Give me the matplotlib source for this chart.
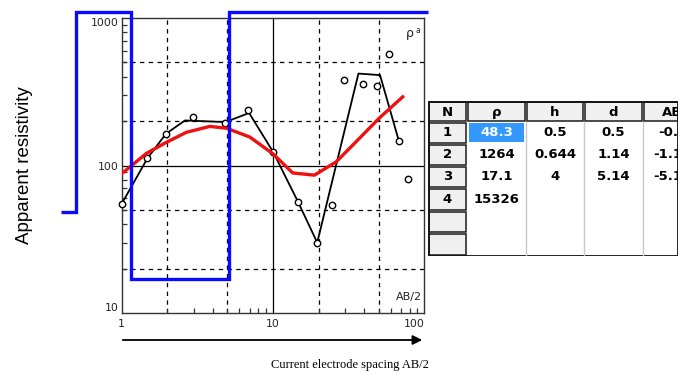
import numpy as np
import matplotlib
matplotlib.use("Agg")
import matplotlib.pyplot as plt
from matplotlib.patches import Rectangle, FancyArrowPatch
from matplotlib.ticker import LogLocator, NullFormatter, FixedLocator

# ---------------- data ----------------
# observed apparent resistivity (open circles)
obs_x = [1.0, 1.48, 1.96, 2.94, 4.85, 6.85, 10.0, 14.6, 19.6, 24.6, 29.4, 39.2, 48.7, 58.8, 68.4, 78.4]
obs_y = [55, 112, 164, 213, 194, 238, 124, 57, 30, 54, 379, 357, 345, 566, 146, 81]

# black line (smoothed field curve)
line_x = [1.0, 1.48, 1.96, 2.62, 4.85, 6.95, 10.0, 14.6, 19.6, 36.7, 51.0, 68.4]
line_y = [55, 112, 164, 202, 197, 227, 124, 57, 30, 420, 410, 143]

# red line (model response)
calc_x = [1.0, 1.46, 1.96, 2.68, 3.82, 4.92, 7.02, 10.0, 13.5, 18.8, 26.2, 37.3, 50.5, 72.0]
calc_y = [88, 121, 143, 168, 184, 179, 156, 120, 89, 86, 106, 153, 210, 292]

# layered model (blue)
layer_rho = [48.3, 1264, 17.1, 15326]
layer_h = [0.5, 0.644, 4]
layer_d = list(np.cumsum(layer_h))

# ---------------- figure ----------------
W, H = 686, 377
fig = plt.figure(figsize=(W / 100, H / 100), dpi=100)
fig.patch.set_facecolor("white")

ax_l, ax_r, ax_t, ax_b = 121.7, 424.3, 18.0, 313.0
ax = fig.add_axes([ax_l / W, (H - ax_b) / H, (ax_r - ax_l) / W, (ax_b - ax_t) / H])
ax.set_xscale("log")
ax.set_yscale("log")
ax.set_xlim(1, 100)
ax.set_ylim(10, 1000)

# grid
dash = (0, (3.5, 3.5))
for g in [2, 5, 20, 50]:
    ax.axvline(g, color="black", lw=0.9, ls=dash, zorder=1)
for g in [20, 50, 200, 500]:
    ax.axhline(g, color="black", lw=0.9, ls=dash, zorder=1)
ax.axvline(10, color="black", lw=0.9, zorder=1)
ax.axhline(100, color="black", lw=0.9, zorder=1)

for s in ax.spines.values():
    s.set_color("#333333")
    s.set_linewidth(1.0)

# ticks
ax.xaxis.set_major_locator(FixedLocator([1, 10, 100]))
ax.yaxis.set_major_locator(FixedLocator([10, 100, 1000]))
ax.set_xticklabels(["1", "10", "100"])
ax.set_yticklabels(["10", "100", "1000"])
ax.xaxis.set_minor_locator(LogLocator(base=10, subs=np.arange(2, 10)))
ax.yaxis.set_minor_locator(LogLocator(base=10, subs=np.arange(2, 10)))
ax.xaxis.set_minor_formatter(NullFormatter())
ax.yaxis.set_minor_formatter(NullFormatter())
ax.tick_params(which="major", length=0, labelsize=7.8, colors="#222222")
ax.tick_params(axis="x", which="major", pad=4)
ax.tick_params(axis="y", which="major", pad=2)
ax.tick_params(which="minor", direction="in", length=3.5, width=0.9, color="#333333")
xl = ax.get_xticklabels()
xl[-1].set_ha("right")
yl = ax.get_yticklabels()
yl[0].set_va("bottom")
yl[-1].set_va("top")

# curves
ax.plot(line_x, line_y, color="black", lw=1.3, zorder=3)
ax.plot(obs_x, obs_y, ls="none", marker="o", ms=4.6, mfc="white", mec="black", mew=1.0,
        zorder=4, clip_on=False)
ax.plot(calc_x, calc_y, color="#ee1111", lw=2.4, zorder=5)

# blue layered model, drawn beyond the axes
x_ext_left, x_ext_right, rho_cap = 0.4, 105, 1090
edges = [x_ext_left] + layer_d + [x_ext_right]
ax.stairs(np.minimum(layer_rho, rho_cap), edges, baseline=None, color="#0a0aff", lw=2.4,
          zorder=6, clip_on=False)

# annotations inside axes
ax.text(0.953, 0.948, "ρ", transform=ax.transAxes, fontsize=9, ha="center", va="center", color="#222222")
ax.text(0.979, 0.958, "a", transform=ax.transAxes, fontsize=5.5, ha="center", va="center", color="#222222")
ax.text(0.991, 0.055, "AB/2", transform=ax.transAxes, fontsize=8, ha="right", va="center", color="#222222")

# outside labels
fig.text(25 / W, 1 - 165 / H, "Apparent resistivity", rotation=90, ha="center", va="center",
         fontsize=13.5, family="Liberation Sans", color="black")
fig.text(350 / W, 1 - 365 / H, "Current electrode spacing AB/2", ha="center", va="center",
         fontsize=9, family="Liberation Serif", color="black")
fig.add_artist(FancyArrowPatch((120 / W, 1 - 340 / H), (425 / W, 1 - 340 / H),
                               transform=fig.transFigure, arrowstyle="-|>",
                               mutation_scale=14, color="black", lw=1.3))

# ---------------- table ----------------
t_l, t_r, t_t, t_b = 428, 678, 101, 256
tax = fig.add_axes([t_l / W, (H - t_b) / H, (t_r - t_l) / W, (t_b - t_t) / H])
tax.set_xlim(t_l, t_r)
tax.set_ylim(t_b, t_t)
tax.axis("off")

col_edges = [428, 467, 526, 584, 643, 702]
row_edges = [101, 122, 144, 166, 188, 211, 233, 256]
headers = ["N", "ρ", "h", "d", "AB"]
col_rho = ["%.5g" % v for v in layer_rho]
col_h = ["%.3g" % v for v in layer_h]
col_d = ["%.3g" % v for v in layer_d]
col_ab = ["%.3g" % (-v) for v in layer_d]
cols = [col_rho, col_h, col_d, col_ab]

tax.add_patch(Rectangle((t_l, t_t), t_r - t_l, t_b - t_t, facecolor="white", edgecolor="none"))
for x in col_edges[2:5]:
    tax.plot([x, x], [row_edges[1], t_b], color="#c8c8c8", lw=1.0)

hdr_kw = dict(facecolor="#f0f0f0", edgecolor="#1a1a1a", lw=1.1)
for i in range(len(headers)):
    x0, x1 = col_edges[i], col_edges[i + 1]
    tax.add_patch(Rectangle((x0 + 1, row_edges[0] + 1), x1 - x0 - 2, row_edges[1] - row_edges[0] - 2, **hdr_kw))
    tax.text((x0 + x1) / 2, (row_edges[0] + row_edges[1]) / 2 + 1, headers[i], ha="center", va="center",
             fontsize=9.5, fontweight="bold", color="black", clip_on=True)
for r in range(1, len(row_edges) - 1):
    y0, y1 = row_edges[r], row_edges[r + 1]
    tax.add_patch(Rectangle((col_edges[0] + 1, y0 + 1), col_edges[1] - col_edges[0] - 2, y1 - y0 - 2, **hdr_kw))
    if r <= len(layer_rho):
        tax.text((col_edges[0] + col_edges[1]) / 2, (y0 + y1) / 2, str(r), ha="center", va="center",
                 fontsize=9.5, fontweight="bold", color="black")

# selected cell
tax.add_patch(Rectangle((col_edges[1] + 2, row_edges[1] + 1), col_edges[2] - col_edges[1] - 4,
                        row_edges[2] - row_edges[1] - 3, facecolor="#3399ff", edgecolor="none"))

for c, vals in enumerate(cols):
    x0, x1 = col_edges[c + 1], col_edges[c + 2]
    for r, v in enumerate(vals):
        y0, y1 = row_edges[r + 1], row_edges[r + 2]
        color = "white" if (c == 0 and r == 0) else "black"
        tax.text((x0 + x1) / 2, (y0 + y1) / 2, v, ha="center", va="center",
                 fontsize=9.5, fontweight="bold", color=color, clip_on=True)

tax.add_patch(Rectangle((t_l + 0.5, t_t + 0.5), t_r - t_l - 1, t_b - t_t - 1, facecolor="none",
                        edgecolor="#111111", lw=1.3))

fig.savefig("out.png", dpi=100, facecolor="white")
